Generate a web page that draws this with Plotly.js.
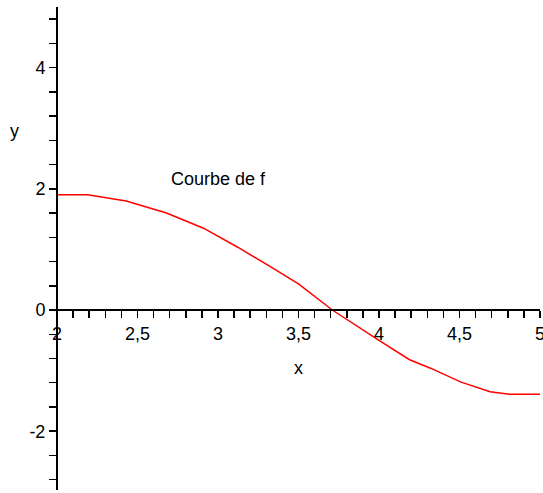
<!DOCTYPE html>
<html>
<head>
<meta charset="utf-8">
<script src="https://cdn.plot.ly/plotly-3.0.1.min.js"></script>
<style>
html, body { margin: 0; padding: 0; background: #fff; }
#chart { width: 543px; height: 493px; }
</style>
</head>
<body>
<div id="chart"></div>
<script>
// Curve samples of f
const xValues = [2.00, 2.19, 2.43, 2.68, 2.91, 3.12, 3.31, 3.50, 3.71, 3.88, 4.00, 4.19, 4.32, 4.51, 4.69, 4.81, 5.00];
const yValues = [1.90, 1.90, 1.80, 1.60, 1.35, 1.04, 0.74, 0.43, 0.00, -0.30, -0.50, -0.82, -0.96, -1.19, -1.35, -1.39, -1.39];

const xRange = [2, 5];
const yRange = [-2.97, 5];
const xTickVals = [2, 2.5, 3, 3.5, 4, 4.5, 5];
const xTickLabels = ['2', '2,5', '3', '3,5', '4', '4,5', '5'];
const yTickVals = [-2, 0, 2, 4];
const yTickLabels = ['-2', '0', '2', '4'];
const curveLabel = 'Courbe de f';
const xTitle = 'x';
const yTitle = 'y';

const FONT = 'Liberation Sans, Arial, sans-serif';
const xAxisPos = (0 - yRange[0]) / (yRange[1] - yRange[0]);

const trace = {
  x: xValues, y: yValues, type: 'scatter', mode: 'lines',
  line: { color: '#ff0000', width: 1.5 },
  hoverinfo: 'skip', showlegend: false
};

const layout = {
  width: 543, height: 493,
  margin: { l: 57, r: 3, t: 7, b: 3, pad: 0 },
  paper_bgcolor: '#ffffff', plot_bgcolor: '#ffffff',
  separators: ', ',
  font: { family: FONT, size: 18, color: '#000' },
  showlegend: false,
  xaxis: {
    range: xRange, anchor: 'free', position: xAxisPos,
    showline: true, linecolor: '#000', linewidth: 2,
    showgrid: false, zeroline: false,
    ticks: 'outside', ticklen: 7, tickwidth: 1.5, tickcolor: '#000',
    tickmode: 'array', tickvals: xTickVals, ticktext: xTickLabels,
    ticklabeloverflow: 'allow',
    minor: { tickmode: 'linear', dtick: 0.1, tick0: 2, ticks: 'outside', ticklen: 7, tickwidth: 1.5, tickcolor: '#000', showgrid: false },
    tickfont: { family: FONT, size: 18, color: '#000' },
    fixedrange: true
  },
  yaxis: {
    range: yRange, anchor: 'free', position: 0,
    showline: true, linecolor: '#000', linewidth: 2,
    showgrid: false, zeroline: false,
    ticks: 'outside', ticklen: 7, tickwidth: 1.5, tickcolor: '#000',
    tickmode: 'array', tickvals: yTickVals, ticktext: yTickLabels,
    ticklabeloverflow: 'allow',
    minor: { tickmode: 'linear', dtick: 0.4, tick0: 0, ticks: 'outside', ticklen: 7, tickwidth: 1.5, tickcolor: '#000', showgrid: false },
    tickfont: { family: FONT, size: 18, color: '#000' },
    fixedrange: true
  },
  annotations: [
    { x: 3.0, y: 2.17, xref: 'x', yref: 'y', text: curveLabel, showarrow: false,
      font: { family: FONT, size: 18, color: '#000' }, xanchor: 'center', yanchor: 'middle' },
    { x: 3.5, y: -0.95, xref: 'x', yref: 'y', text: xTitle, showarrow: false,
      font: { family: FONT, size: 18, color: '#000' }, xanchor: 'center', yanchor: 'middle' },
    { x: -0.087, y: 2.95, xref: 'paper', yref: 'y', text: yTitle, showarrow: false,
      font: { family: FONT, size: 18, color: '#000' }, xanchor: 'center', yanchor: 'middle' }
  ]
};

Plotly.newPlot('chart', [trace], layout, { staticPlot: true, displayModeBar: false });
</script>
</body>
</html>
